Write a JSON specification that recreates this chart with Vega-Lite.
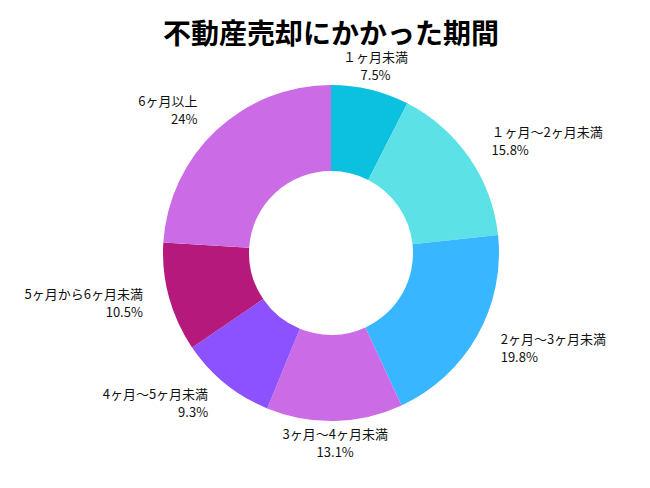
{
  "$schema": "https://vega.github.io/schema/vega-lite/v6.json",
  "width": 662,
  "height": 506,
  "autosize": "none",
  "padding": 0,
  "background": "white",
  "title": {
    "text": "不動産売却にかかった期間",
    "font": "Noto Sans CJK JP",
    "fontSize": 28,
    "fontWeight": "bold",
    "color": "#000000",
    "anchor": "middle",
    "frame": "group",
    "offset": -50
  },
  "data": {
    "values": [
      {"i": 1, "k": "１ヶ月未満", "v": 0.075},
      {"i": 2, "k": "１ヶ月～2ヶ月未満", "v": 0.158},
      {"i": 3, "k": "2ヶ月～3ヶ月未満", "v": 0.198},
      {"i": 4, "k": "3ヶ月～4ヶ月未満", "v": 0.131},
      {"i": 5, "k": "4ヶ月～5ヶ月未満", "v": 0.093},
      {"i": 6, "k": "5ヶ月から6ヶ月未満", "v": 0.105},
      {"i": 7, "k": "6ヶ月以上", "v": 0.24}
    ]
  },
  "encoding": {
    "theta": {"field": "v", "type": "quantitative", "stack": true},
    "order": {"field": "i", "type": "quantitative"}
  },
  "layer": [
    {
      "mark": {"type": "arc", "outerRadius": 168, "innerRadius": 82},
      "encoding": {
        "color": {
          "field": "k",
          "type": "nominal",
          "scale": {
            "domain": ["１ヶ月未満", "１ヶ月～2ヶ月未満", "2ヶ月～3ヶ月未満", "3ヶ月～4ヶ月未満", "4ヶ月～5ヶ月未満", "5ヶ月から6ヶ月未満", "6ヶ月以上"],
            "range": ["#0CC0DF", "#5CE1E6", "#38B6FF", "#CB6CE6", "#8C52FF", "#B5197B", "#CB6CE6"]
          },
          "legend": null
        }
      }
    },
    {
      "mark": {"type": "text", "radius": 191, "align": "center", "baseline": "middle", "dy": -9, "font": "Noto Sans CJK JP", "fontSize": 13, "color": "#111111"},
      "encoding": {
        "text": {"field": "k", "type": "nominal"},
        "opacity": {"condition": {"test": "indexof(['１ヶ月未満','3ヶ月～4ヶ月未満'], datum.k) >= 0", "value": 1}, "value": 0}
      }
    },
    {
      "mark": {"type": "text", "radius": 191, "align": "center", "baseline": "middle", "dy": 9, "font": "Noto Sans CJK JP", "fontSize": 13, "color": "#111111"},
      "encoding": {
        "text": {"field": "v", "type": "quantitative", "format": ".1~%"},
        "opacity": {"condition": {"test": "indexof(['１ヶ月未満','3ヶ月～4ヶ月未満'], datum.k) >= 0", "value": 1}, "value": 0}
      }
    },
    {
      "mark": {"type": "text", "radius": 195, "align": "left", "baseline": "middle", "dy": -9, "font": "Noto Sans CJK JP", "fontSize": 13, "color": "#111111"},
      "encoding": {
        "text": {"field": "k", "type": "nominal"},
        "opacity": {"condition": {"test": "indexof(['１ヶ月～2ヶ月未満','2ヶ月～3ヶ月未満'], datum.k) >= 0", "value": 1}, "value": 0}
      }
    },
    {
      "mark": {"type": "text", "radius": 195, "align": "left", "baseline": "middle", "dy": 9, "font": "Noto Sans CJK JP", "fontSize": 13, "color": "#111111"},
      "encoding": {
        "text": {"field": "v", "type": "quantitative", "format": ".1~%"},
        "opacity": {"condition": {"test": "indexof(['１ヶ月～2ヶ月未満','2ヶ月～3ヶ月未満'], datum.k) >= 0", "value": 1}, "value": 0}
      }
    },
    {
      "mark": {"type": "text", "radius": 195, "align": "right", "baseline": "middle", "dy": -9, "font": "Noto Sans CJK JP", "fontSize": 13, "color": "#111111"},
      "encoding": {
        "text": {"field": "k", "type": "nominal"},
        "opacity": {"condition": {"test": "indexof(['4ヶ月～5ヶ月未満','5ヶ月から6ヶ月未満','6ヶ月以上'], datum.k) >= 0", "value": 1}, "value": 0}
      }
    },
    {
      "mark": {"type": "text", "radius": 195, "align": "right", "baseline": "middle", "dy": 9, "font": "Noto Sans CJK JP", "fontSize": 13, "color": "#111111"},
      "encoding": {
        "text": {"field": "v", "type": "quantitative", "format": ".1~%"},
        "opacity": {"condition": {"test": "indexof(['4ヶ月～5ヶ月未満','5ヶ月から6ヶ月未満','6ヶ月以上'], datum.k) >= 0", "value": 1}, "value": 0}
      }
    }
  ],
  "config": {"view": {"stroke": null}}
}
